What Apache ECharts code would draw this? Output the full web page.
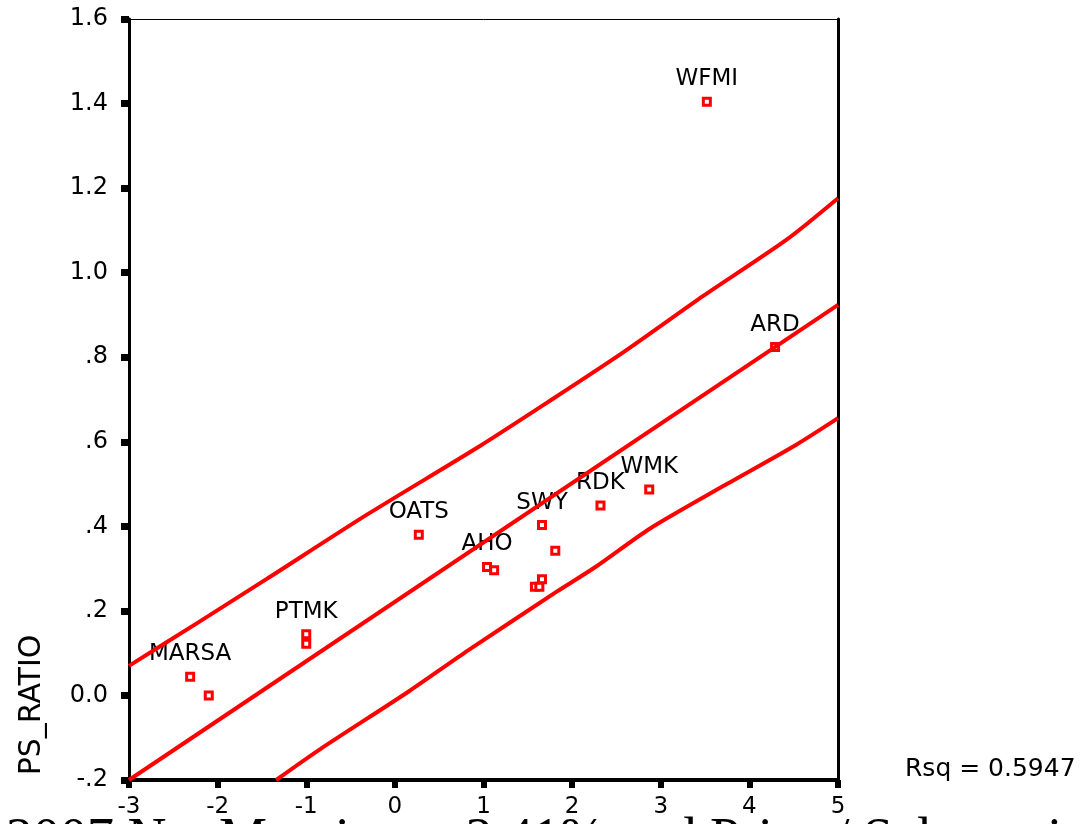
<!DOCTYPE html>
<html>
<head>
<meta charset="utf-8">
<script src="https://cdn.jsdelivr.net/npm/echarts@6/dist/echarts.min.js"></script>
<style>
  html, body { margin: 0; padding: 0; background: #ffffff; }
  #chart { width: 1082px; height: 824px; }
</style>
</head>
<body>
<div id="chart"></div>
<script>
// Firms: 2007 net margin (relative, x) against price / sales ratio (y)
const firmNames  = ['WFMI', 'ARD', 'WMK', 'RDK', 'SWY', '', 'AHO', '', '', '', '', 'OATS', 'PTMK', '', 'MARSA', ''];
const netMargin  = [3.52, 4.29, 2.87, 2.32, 1.66, 1.81, 1.04, 1.12, 1.66, 1.58, 1.63, 0.27, -1.00, -1.00, -2.31, -2.10];
const psRatio    = [1.404, 0.824, 0.487, 0.449, 0.403, 0.342, 0.304, 0.296, 0.275, 0.257, 0.257, 0.380, 0.145, 0.122, 0.044, 0.000];

// Fitted regression line (end points)
const fitX = [-3, 5];
const fitY = [-0.200, 0.924];

// Upper and lower prediction bounds
const upperX = [-3.00, -2.24, -1.45, -0.32, 0.96, 1.75, 2.58, 3.48, 4.42, 5.00];
const upperY = [0.070, 0.170, 0.275, 0.427, 0.590, 0.697, 0.812, 0.945, 1.078, 1.176];
const lowerX = [-1.34, -0.85, 0.16, 0.83, 1.83, 2.25, 2.88, 3.72, 4.52, 5.00];
const lowerY = [-0.200, -0.128, 0.010, 0.107, 0.246, 0.302, 0.395, 0.497, 0.592, 0.656];

// Axis tick labels
const xTickLabels = ['-3', '-2', '-1', '0', '1', '2', '3', '4', '5'];
const yTickLabels = ['-.2', '0.0', '.2', '.4', '.6', '.8', '1.0', '1.2', '1.4', '1.6'];

const rsqText = 'Rsq = 0.5947';
const yAxisTitle = 'PS_RATIO';
const caption = '2007 Net Margin vs. 3.41% and Price / Sales ratio';

const RED = '#ff0000';
const SANS = '"DejaVu Sans", sans-serif';

const zip = (xs, ys) => xs.map((x, i) => [x, ys[i]]);

const chart = echarts.init(document.getElementById('chart'), null, { renderer: 'canvas' });

const boundLine = data => ({
  type: 'line', showSymbol: false, z: 3, smooth: 0.25,
  lineStyle: { color: RED, width: 4 },
  emphasis: { disabled: true },
  data
});

chart.setOption({
  animation: false,
  backgroundColor: '#ffffff',
  grid: { left: 129, right: 244, top: 19, bottom: 44, containLabel: false },
  xAxis: [
    {
      type: 'value', min: -3, max: 5, interval: 1, position: 'bottom',
      axisLine: { onZero: false, lineStyle: { color: '#000', width: 4 } },
      axisTick: { show: true, inside: false, length: 8, lineStyle: { color: '#000', width: 6 } },
      axisLabel: {
        margin: 16, color: '#000', fontFamily: SANS, fontSize: 23,
        formatter: v => xTickLabels[Math.round(v + 3)]
      },
      splitLine: { show: false }
    },
    {
      type: 'value', min: -3, max: 5, interval: 1, position: 'top',
      axisLine: { onZero: false, lineStyle: { color: '#000', width: 1 } },
      axisTick: { show: false }, axisLabel: { show: false }, splitLine: { show: false }
    }
  ],
  yAxis: [
    {
      type: 'value', min: -0.2, max: 1.6, interval: 0.2, position: 'left',
      axisLine: { onZero: false, lineStyle: { color: '#000', width: 3 } },
      axisTick: { show: true, inside: false, length: 8, lineStyle: { color: '#000', width: 7 } },
      axisLabel: {
        margin: 21, color: '#000', fontFamily: SANS, fontSize: 24,
        formatter: v => yTickLabels[Math.round((v + 0.2) / 0.2)]
      },
      splitLine: { show: false }
    },
    {
      type: 'value', min: -0.2, max: 1.6, interval: 0.2, position: 'right',
      axisLine: { onZero: false, lineStyle: { color: '#000', width: 3 } },
      axisTick: { show: false }, axisLabel: { show: false }, splitLine: { show: false }
    }
  ],
  series: [
    {
      type: 'scatter',
      symbol: 'rect',
      symbolSize: 7,
      z: 2,
      itemStyle: { color: '#ffffff', borderColor: RED, borderWidth: 3, opacity: 1 },
      emphasis: { disabled: true },
      label: {
        show: true, position: 'top', distance: 6,
        color: '#000', fontFamily: SANS, fontSize: 23,
        formatter: p => p.name
      },
      data: netMargin.map((x, i) => ({ name: firmNames[i], value: [x, psRatio[i]] }))
    },
    {
      type: 'line', showSymbol: false, z: 3,
      lineStyle: { color: RED, width: 4 },
      emphasis: { disabled: true },
      data: zip(fitX, fitY)
    },
    boundLine(zip(upperX, upperY)),
    boundLine(zip(lowerX, lowerY))
  ],
  graphic: [
    {
      type: 'text', left: 905, top: 757,
      style: { text: rsqText, fill: '#000', font: '25px ' + SANS }
    },
    {
      type: 'text', x: 32, y: 705, rotation: Math.PI / 2,
      style: { text: yAxisTitle, fill: '#000', font: '30px ' + SANS, align: 'center', verticalAlign: 'middle' }
    },
    {
      type: 'text', x: 6, y: 841, z: -1,
      style: { text: caption, fill: '#000', font: '54px "Liberation Serif", serif', align: 'left', verticalAlign: 'middle' }
    }
  ]
});
</script>
</body>
</html>
